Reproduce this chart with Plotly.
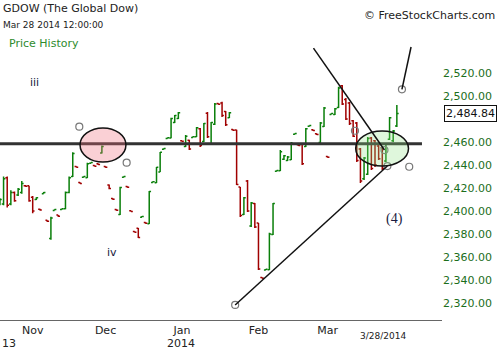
import pandas as pd
import plotly.graph_objects as go

# --- Session calendar: Oct 21 2013 .. Mar 28 2014 (US market holidays removed) ---
holidays = ["2013-11-28", "2013-12-25", "2014-01-01", "2014-01-20", "2014-02-17"]
sessions = [d for d in pd.bdate_range("2013-10-21", "2014-03-28")
            if d.strftime("%Y-%m-%d") not in holidays]
FIRST_NOV = 9  # position of Nov 1 2013 in the session list
x_idx = [i - FIRST_NOV for i in range(len(sessions))]
dates = [d.strftime("%m/%d/%Y") for d in sessions]

# --- Daily OHLC of the Global Dow (GDOW) ---
opens = [2406, 2406, 2429, 2406, 2416, 2414, 2416, 2422, 2422,
         2412, 2410, 2401.5, 2415, 2392, 2376, 2400.5, 2396.5, 2401.2, 2402,
         2416, 2430, 2438.8, 2424.8, 2429.3, 2429, 2441.5, 2439.6, 2441, 2450.5,
         2438.6, 2422.5, 2410.8, 2401.3, 2397, 2429.3, 2421.3, 2400.3, 2382.2, 2385,
         2394.6, 2390, 2389, 2424.8, 2424.5, 2434, 2453.6, 2463, 2463.5, 2477, 2480.5,
         2461.2, 2456, 2461.5, 2464, 2464.5, 2471.5, 2460.5, 2485, 2458, 2475.5,
         2493.5, 2494, 2486.5, 2481, 2470.8, 2470.4, 2420.9, 2397, 2426, 2387, 2406.5,
         2389.6, 2342.2, 2348.6, 2349, 2379.5, 2434.5, 2435, 2445, 2444, 2444.5,
         2466.7, 2457.6, 2458.5, 2456, 2473.6, 2470.6, 2467.2, 2459.5, 2473.5,
         2447.4, 2484, 2484, 2490, 2509, 2497, 2494, 2478.5, 2476.5, 2454,
         2428, 2432, 2463.5, 2461, 2456.5, 2455, 2443.5, 2462.5, 2461, 2474]
highs = [2411, 2430, 2430, 2418, 2417, 2420, 2426, 2422.5, 2422,
         2413, 2412, 2402, 2416.5, 2392, 2395, 2401.5, 2396.5, 2402.2, 2417,
         2430, 2451, 2439, 2425, 2430.3, 2442, 2442.5, 2439.8, 2441.2, 2457,
         2439, 2423, 2411, 2401.5, 2421, 2430.3, 2421.5, 2400.5, 2382.4, 2385.2,
         2395.6, 2390.2, 2417.4, 2425.8, 2438.3, 2451.3, 2454.6, 2464, 2481, 2483.5, 2486,
         2461.4, 2466, 2462, 2465, 2473, 2472.2, 2476.5, 2486, 2477.4, 2494,
         2493.7, 2495, 2487, 2486.1, 2471, 2470.6, 2420.9, 2412.2, 2427, 2407.8, 2407,
         2389.6, 2342.4, 2349.6, 2381, 2407, 2435.5, 2453, 2448.7, 2447.8, 2460,
         2467.7, 2457.8, 2459.1, 2472.2, 2474.6, 2470.8, 2467.4, 2477.4, 2490.4,
         2447.6, 2485, 2489.6, 2508, 2509.6, 2498.3, 2494.8, 2479.1, 2477.4, 2454.8,
         2447, 2464.3, 2464.3, 2461.7, 2457.4, 2455.6, 2459.1, 2481.7, 2470.4, 2492.2]
lows = [2405, 2405, 2403, 2405, 2408, 2413, 2415, 2421, 2408,
        2398, 2409.5, 2400.5, 2415, 2390.5, 2375, 2400.5, 2395, 2401, 2401.5,
        2415.5, 2429.5, 2437.8, 2423.8, 2429.2, 2428.7, 2441.3, 2438.6, 2440, 2450,
        2437.6, 2419, 2409.8, 2400.3, 2396.5, 2429.2, 2420.3, 2399.3, 2381.2, 2376.5,
        2394.5, 2389, 2388.7, 2424.7, 2424.3, 2433.9, 2453.5, 2462.9, 2463.3, 2476.5, 2480,
        2460.2, 2455.6, 2453, 2463.9, 2464.3, 2455.6, 2460, 2463.5, 2457.4, 2474.8,
        2492.5, 2481.7, 2474, 2480.9, 2469.8, 2422.6, 2394.8, 2396.5, 2399.1, 2386.1, 2385.2,
        2348.7, 2341.2, 2348.5, 2348.7, 2379.1, 2434.4, 2434.8, 2444.3, 2443.5, 2444.3,
        2466.6, 2456.6, 2440, 2455.6, 2473.5, 2469.6, 2466.2, 2459.1, 2473,
        2446.4, 2483.9, 2483.5, 2489.6, 2492.2, 2479.1, 2474.8, 2464.3, 2442.6, 2424.3,
        2427, 2431.3, 2435.6, 2438.3, 2444.3, 2435.6, 2442.6, 2461.7, 2460, 2473]
closes = [2410, 2428, 2405, 2416, 2409, 2419, 2424, 2421.5, 2409,
          2400, 2411.5, 2400.8, 2416, 2391, 2394, 2401.2, 2395.5, 2402, 2416,
          2429, 2450, 2438, 2424, 2430, 2441, 2442.2, 2439, 2440.4, 2456,
          2438, 2419.5, 2410.2, 2400.6, 2420.5, 2430, 2420.6, 2399.6, 2381.5, 2377,
          2395.3, 2389.4, 2417, 2425.5, 2438, 2451, 2454.3, 2463.7, 2480.5, 2483, 2485.5,
          2460.6, 2465, 2454, 2464.6, 2472.5, 2457, 2476, 2464.5, 2477, 2493,
          2492.8, 2483, 2475, 2485.5, 2470.3, 2423, 2396, 2411.5, 2400, 2407, 2386,
          2349.5, 2341.6, 2349.3, 2380, 2406.5, 2435.2, 2451.5, 2448, 2447, 2459,
          2467.4, 2457, 2441, 2471.5, 2474.3, 2470, 2466.6, 2476.5, 2489.5,
          2446.8, 2484.7, 2489, 2507, 2493, 2480, 2476, 2465, 2444, 2426,
          2446, 2463, 2437, 2440, 2445.5, 2437, 2458, 2481, 2469.5, 2484.84]

# --- Axis ticks (2,480 sits under the last-price box) ---
price_ticks = [2320, 2340, 2360, 2380, 2400, 2420, 2440, 2460, 2500, 2520]
month_ticks = [0, 20, 41, 62, 81]
month_labels = ["Nov", "Dec", "Jan", "Feb", "Mar"]
last_label = "3/28/2014"

# --- Drawn study markup (session index, price) ---
support_level = 2458.5
ellipse_dec = (13.0, 25.6, 2442.6, 2472.2)
ellipse_mar = (88.7, 103.2, 2439.1, 2469.6)
falling_line = ((77.1, 2541.7), (96.6, 2453.0))
rising_line = ((55.6, 2318.3), (97.4, 2439.1))
breakout_line = ((101.4, 2505.8), (103.9, 2542.6))
anchor_x = [12.8, 25.8, 55.6, 96.6, 97.4, 101.4, 88.5, 103.4]
anchor_y = [2473.3, 2442.0, 2318.3, 2453.0, 2439.1, 2505.8, 2469.8, 2438.5]
wave_labels = [("iii", 0.6, 2512), ("iv", 21.8, 2364)]
wave4_label = ("(4)", 99.3, 2393)

X_RANGE = [-8.98, 112.4]
Y_RANGE = [2305.2, 2583.5]
PLOT_W, PLOT_H = 442, 320

GREEN = "#0a7f0a"
RED = "#a00000"
FONT = "DejaVu Sans"


def paper(px, py):
    """Pixel position inside the plotting area -> paper coordinates."""
    return px / PLOT_W, (PLOT_H - py) / PLOT_H


fig = go.Figure()

fig.add_trace(go.Ohlc(
    x=x_idx, open=opens, high=highs, low=lows, close=closes,
    text=dates, hoverinfo="text+y",
    increasing=dict(line=dict(color=GREEN, width=1.5)),
    decreasing=dict(line=dict(color=RED, width=1.5)),
    tickwidth=0.5, showlegend=False,
))

fig.add_trace(go.Scatter(
    x=anchor_x, y=anchor_y, mode="markers",
    marker=dict(symbol="circle-open", size=7, color="#777777", line=dict(width=1.2)),
    hoverinfo="skip", showlegend=False,
))

shapes = [
    dict(type="line", x0=X_RANGE[0], x1=106.9, y0=support_level, y1=support_level,
         line=dict(color="#333333", width=3)),
]
for (xa, xb, ya, yb), fill in [(ellipse_dec, "rgba(240,110,125,0.32)"),
                               (ellipse_mar, "rgba(140,225,130,0.28)")]:
    shapes.append(dict(type="circle", x0=xa, x1=xb, y0=ya, y1=yb,
                       line=dict(color="#111111", width=1.5), fillcolor=fill))
for (xa, ya), (xb, yb) in [falling_line, rising_line, breakout_line]:
    shapes.append(dict(type="line", x0=xa, y0=ya, x1=xb, y1=yb,
                       line=dict(color="#111111", width=1.5)))

annotations = []
for txt, xv, yv in wave_labels:
    annotations.append(dict(x=xv, y=yv, text=txt, showarrow=False,
                            font=dict(family=FONT, size=11, color="#1a1a40")))
annotations.append(dict(x=wave4_label[1], y=wave4_label[2], text=wave4_label[0],
                        showarrow=False,
                        font=dict(family="Liberation Serif", size=14, color="#1a1a40")))


def header(text, px, py, size, color, anchor="left"):
    xp, yp = paper(px, py)
    annotations.append(dict(xref="paper", yref="paper", x=xp, y=yp, text=text,
                            showarrow=False, xanchor=anchor, yanchor="middle",
                            font=dict(family=FONT, size=size, color=color)))


header("GDOW (The Global Dow)", 1, 9, 11, "#222222")
header("Mar 28 2014 12:00:00", 1, 25, 9, "#222222")
header("Price History", 7, 43, 11, "#2e8b2e")
header("© FreeStockCharts.com", 497, 15, 11, "#222222", anchor="right")
header("13", 0, 343, 11, "#222222")
header("2014", 181, 343, 11, "#222222", anchor="center")
header(last_label, 383, 336, 9, "#222222", anchor="center")

# Last price box on the right-hand scale
annotations.append(dict(xref="paper", yref="y", x=1, y=closes[-1], xanchor="left",
                        xshift=2, text=f"{closes[-1]:,.2f}", showarrow=False,
                        font=dict(family=FONT, size=11, color="#111111"),
                        bgcolor="white", bordercolor="#111111", borderwidth=1,
                        borderpad=1))

fig.update_layout(
    width=500, height=350,
    margin=dict(l=0, r=58, t=0, b=30),
    paper_bgcolor="white", plot_bgcolor="white",
    shapes=shapes, annotations=annotations,
    showlegend=False,
    xaxis=dict(range=X_RANGE, tickvals=month_ticks, ticktext=month_labels,
               showgrid=False, zeroline=False, showline=True, linecolor="#666666",
               linewidth=1, ticks="", tickfont=dict(family=FONT, size=11, color="#222222"),
               rangeslider=dict(visible=False)),
    yaxis=dict(range=Y_RANGE, side="right", tickvals=price_ticks, tickformat=",.2f",
               showgrid=False, zeroline=False, showline=False, ticks="",
               tickfont=dict(family=FONT, size=11, color="#1b6e1b")),
)

fig.write_html("out.html")
